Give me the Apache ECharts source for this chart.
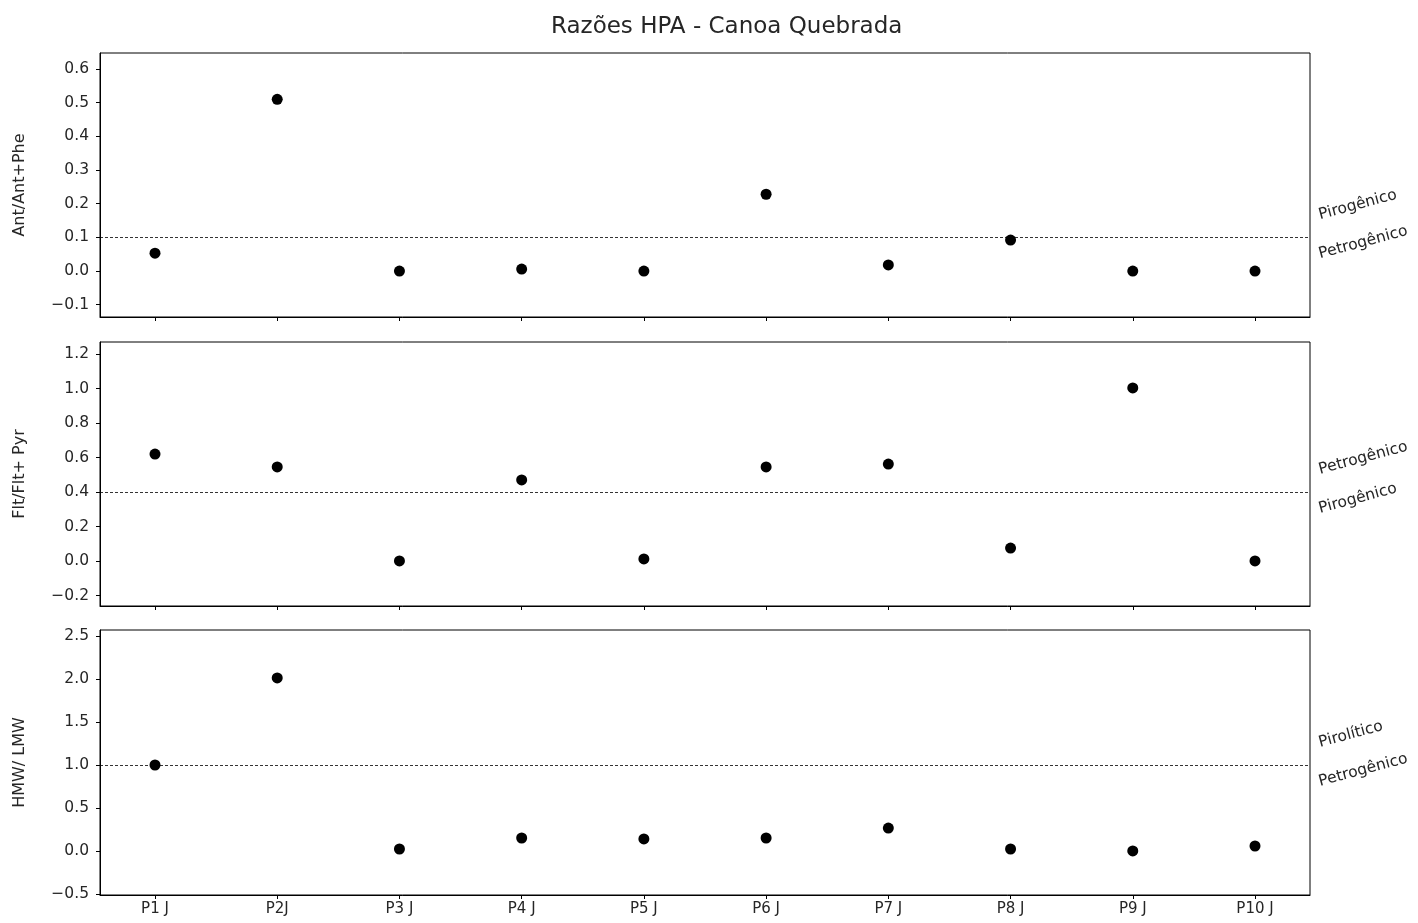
<!DOCTYPE html>
<html>
<head>
<meta charset="utf-8">
<script src="https://cdn.jsdelivr.net/npm/echarts@6/dist/echarts.min.js"></script>
<style>html,body{margin:0;padding:0;background:#fff}#c{width:1418px;height:923px}</style>
</head>
<body>
<div id="c"></div>
<script>
const titleText = 'Razões HPA - Canoa Quebrada';
const categories = ['P1 J','P2J','P3 J','P4 J','P5 J','P6 J','P7 J','P8 J','P9 J','P10 J'];
const antRatio = [0.053,0.510,0,0.006,0,0.228,0.018,0.092,0,0];
const fltRatio = [0.620,0.545,0,0.470,0.012,0.545,0.562,0.075,1.003,0];
const hmwRatio = [1.0,2.012,0.023,0.151,0.14,0.151,0.267,0.023,0,0.058];
const yNames = ['Ant/Ant+Phe','Flt/Flt+ Pyr','HMW/ LMW'];
const thresholds = [0.1,0.4,1.0];
const upperLabels = ['Pirogênico','Petrogênico','Pirolítico'];
const lowerLabels = ['Petrogênico','Pirogênico','Petrogênico'];
const yTicks1 = [-0.1,0,0.1,0.2,0.3,0.4,0.5,0.6];
const yTicks2 = [-0.2,0,0.2,0.4,0.6,0.8,1.0,1.2];
const yTicks3 = [-0.5,0,0.5,1.0,1.5,2.0,2.5];
const yRanges = [[-0.1365,0.6475],[-0.261,1.2696],[-0.512,2.57]];

const seriesVals = [antRatio, fltRatio, hmwRatio];
const yTicks = [yTicks1, yTicks2, yTicks3];
const xTicks = categories.map((c,i)=>i);

const grids = [
  {left:100, right:108, top:53, height:264},
  {left:100, right:108, top:342, height:264},
  {left:100, right:108, top:630, height:265}
].map(g=>Object.assign(g,{show:true,borderColor:'#000',borderWidth:1,backgroundColor:'transparent'}));

const font = 'DejaVu Sans';
const txtColor = '#262626';
const xAxes = grids.map((g,k)=>({
  type:'value', gridIndex:k, min:-0.45, max:9.45,
  splitLine:{show:false},
  axisLine:{show:true,onZero:false,lineStyle:{color:'#000',width:1}},
  axisTick:{show:true,length:4,customValues:xTicks,lineStyle:{color:'#000'}},
  axisLabel:{show:k===2,customValues:xTicks,margin:7,color:txtColor,fontFamily:font,fontSize:15,
    formatter:v=>categories[Math.round(v)]}
}));
const yAxes = grids.map((g,k)=>({
  type:'value', gridIndex:k, min:yRanges[k][0], max:yRanges[k][1],
  name:yNames[k], nameLocation:'middle', nameGap:72, nameRotate:90,
  nameTextStyle:{color:txtColor,fontFamily:font,fontSize:16},
  splitLine:{show:false},
  axisLine:{show:true,onZero:false,lineStyle:{color:'#000',width:1}},
  axisTick:{show:true,length:4,customValues:yTicks[k],lineStyle:{color:'#000'}},
  axisLabel:{customValues:yTicks[k],margin:11,color:txtColor,fontFamily:font,fontSize:15.5,
    formatter:v=>{const s=(Math.abs(v)<1e-9?0:v).toFixed(1);return s.replace('-','\u2212');}}
}));
const series = seriesVals.map((vals,k)=>({
  type:'scatter', xAxisIndex:k, yAxisIndex:k,
  data:vals.map((v,i)=>[i,v]),
  symbolSize:11, itemStyle:{color:'#000',opacity:1},
  markLine:{silent:true,symbol:['none','none'],label:{show:false},
    lineStyle:{type:[3,2],color:'#000',width:0.8,opacity:1},
    data:[{yAxis:thresholds[k]}]}
}));

const chart = echarts.init(document.getElementById('c'),null,{renderer:'canvas'});
chart.setOption({
  animation:false,
  title:{text:titleText,left:546,top:11,textStyle:{color:txtColor,fontFamily:font,fontSize:23,fontWeight:'normal'}},
  grid:grids, xAxis:xAxes, yAxis:yAxes, series:series
});

const graphics = [];
thresholds.forEach((t,k)=>{
  const p = chart.convertToPixel({xAxisIndex:k,yAxisIndex:k},[9.45,t]);
  const x0 = p[0]+9;
  const rot = 15*Math.PI/180;
  graphics.push({type:'text',x:x0,y:p[1]-22,rotation:rot,
    style:{text:upperLabels[k],fill:txtColor,font:'15.5px "DejaVu Sans"',align:'left',verticalAlign:'middle'}});
  graphics.push({type:'text',x:x0,y:p[1]+17,rotation:rot,
    style:{text:lowerLabels[k],fill:txtColor,font:'15.5px "DejaVu Sans"',align:'left',verticalAlign:'middle'}});
});
chart.setOption({graphic:graphics});
</script>
</body>
</html>
